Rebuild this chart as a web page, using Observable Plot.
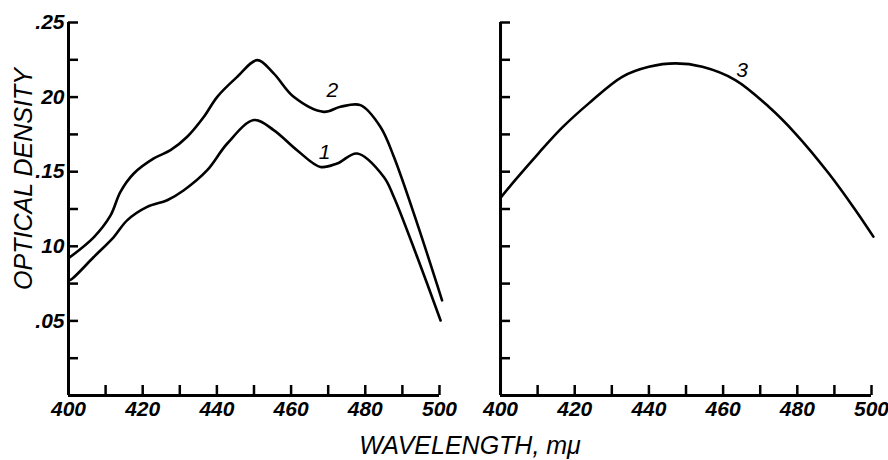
<!DOCTYPE html>
<html>
<head>
<meta charset="utf-8">
<script src="https://cdn.jsdelivr.net/npm/d3@7"></script>
<script src="https://cdn.jsdelivr.net/npm/@observablehq/plot@0.6"></script>
<style>
  body { margin: 0; background: #fff; }
  #chart svg { display: block; }
</style>
</head>
<body>
<div id="chart"></div>
<script>
// ---- data ----
const panels = ["left", "right"];

const curve1Wavelength = [400, 401, 406.8, 412.2, 415.8, 421.2, 426.6, 431.1, 437.4, 442.8, 450, 455.3, 461.6, 467.9, 472.4, 477.8, 485, 487.7, 494, 500.3];
const curve1Density    = [0.077, 0.0783, 0.0928, 0.1062, 0.1174, 0.1264, 0.1309, 0.1376, 0.151, 0.1689, 0.1846, 0.1779, 0.1644, 0.1532, 0.1555, 0.1622, 0.1465, 0.1331, 0.0928, 0.0503];

const curve2Wavelength = [400, 406.8, 411.3, 414, 417.6, 423, 427.5, 432, 436.5, 440.1, 445.5, 450.9, 455.3, 460.7, 468.8, 473.3, 478.7, 484.1, 487.7, 494, 500.7];
const curve2Density    = [0.092, 0.106, 0.1205, 0.1365, 0.1488, 0.1589, 0.1644, 0.1734, 0.1868, 0.2002, 0.2136, 0.2248, 0.2159, 0.2002, 0.1901, 0.1935, 0.1946, 0.180, 0.160, 0.1152, 0.0638];

const curve3Wavelength = [400, 404, 410.3, 416.6, 423.8, 432.8, 440, 447.2, 454.4, 463.3, 472.3, 479.5, 488.5, 495.7, 500.5];
const curve3Density    = [0.1325, 0.1445, 0.1625, 0.1795, 0.1958, 0.2136, 0.2203, 0.2226, 0.2203, 0.2114, 0.1935, 0.1756, 0.1488, 0.1242, 0.1065];

const curveNames  = ["1", "2", "3"];
const curvePanels = ["left", "left", "right"];
const labelWavelength = [469, 471.1, 465.1];
const labelDensity    = [0.1633, 0.2047, 0.218];

const xTickValues  = [400, 410, 420, 430, 440, 450, 460, 470, 480, 490, 500];
const xLabelValues = [400, 420, 440, 460, 480, 500];
const xTickLabels  = ["400", "420", "440", "460", "480", "500"];
const yTickValues  = [0, 0.025, 0.05, 0.075, 0.1, 0.125, 0.15, 0.175, 0.2, 0.225, 0.25];
const yLabelValues = [0.05, 0.10, 0.15, 0.20, 0.25];
const yTickLabels  = [".05", "10", ".15", "20", ".25"];

const xTitle = "WAVELENGTH, mμ";
const yTitle = "OPTICAL DENSITY";

// ---- build tables ----
const curveWl = [curve1Wavelength, curve2Wavelength, curve3Wavelength];
const curveOd = [curve1Density, curve2Density, curve3Density];
const rows = [];
curveNames.forEach((name, k) => {
  curveWl[k].forEach((w, i) => rows.push({series: name, panel: curvePanels[k], wl: w, od: curveOd[k][i]}));
});
const labels = curveNames.map((name, k) => ({text: name, panel: curvePanels[k], wl: labelWavelength[k], od: labelDensity[k]}));

const font = "'Liberation Sans', Arial, sans-serif";

const chart = Plot.plot({
  width: 888,
  height: 460,
  marginLeft: 68,
  marginRight: 17,
  marginTop: 22,
  marginBottom: 65,
  style: {fontFamily: font, fontStyle: "italic", color: "#000", background: "#fff", overflow: "visible"},
  fx: {domain: panels, paddingInner: 0.1413, paddingOuter: 0, round: false},
  x: {domain: [400, 500]},
  y: {domain: [0, 0.25]},
  marks: [
    Plot.ruleX([400], {y1: 0, y2: 0.25, strokeWidth: 3, stroke: "#000"}),
    Plot.ruleY([0], {x1: 400, x2: 500, strokeWidth: 3, stroke: "#000"}),
    Plot.axisY({ticks: yTickValues, tickSize: -10, fill: "none", label: null, facetAnchor: null, strokeWidth: 2.5, stroke: "#000"}),
    Plot.axisY({ticks: yLabelValues, tickSize: 0, tickPadding: 4, tickFormat: (d, i) => yTickLabels[i], label: null,
                fontSize: 21, fontWeight: "bold", fill: "#000"}),
    Plot.axisX({ticks: xTickValues, tickSize: -10, fill: "none", label: null, strokeWidth: 2.5, stroke: "#000"}),
    Plot.axisX({ticks: xLabelValues, tickSize: 0, tickPadding: 6, tickFormat: (d, i) => xTickLabels[i], label: null,
                fontSize: 21, fontWeight: "bold", fill: "#000"}),
    Plot.axisFx({anchor: "bottom", tickSize: 0, tickFormat: () => "", label: xTitle, labelAnchor: "center",
                 labelOffset: 58, fontSize: 25, fill: "#000"}),
    Plot.line(rows, {x: "wl", y: "od", z: "series", fx: "panel", curve: "catmull-rom", stroke: "#000", strokeWidth: 2.6}),
    Plot.text(labels, {x: "wl", y: "od", fx: "panel", text: "text", fontSize: 21, fill: "#000"}),
    Plot.text([yTitle], {fx: () => "left", frameAnchor: "left", textAnchor: "middle", rotate: -90, dx: -45, dy: -30,
                         fontSize: 25, fill: "#000"})
  ]
});
document.getElementById("chart").appendChild(chart);
</script>
</body>
</html>
